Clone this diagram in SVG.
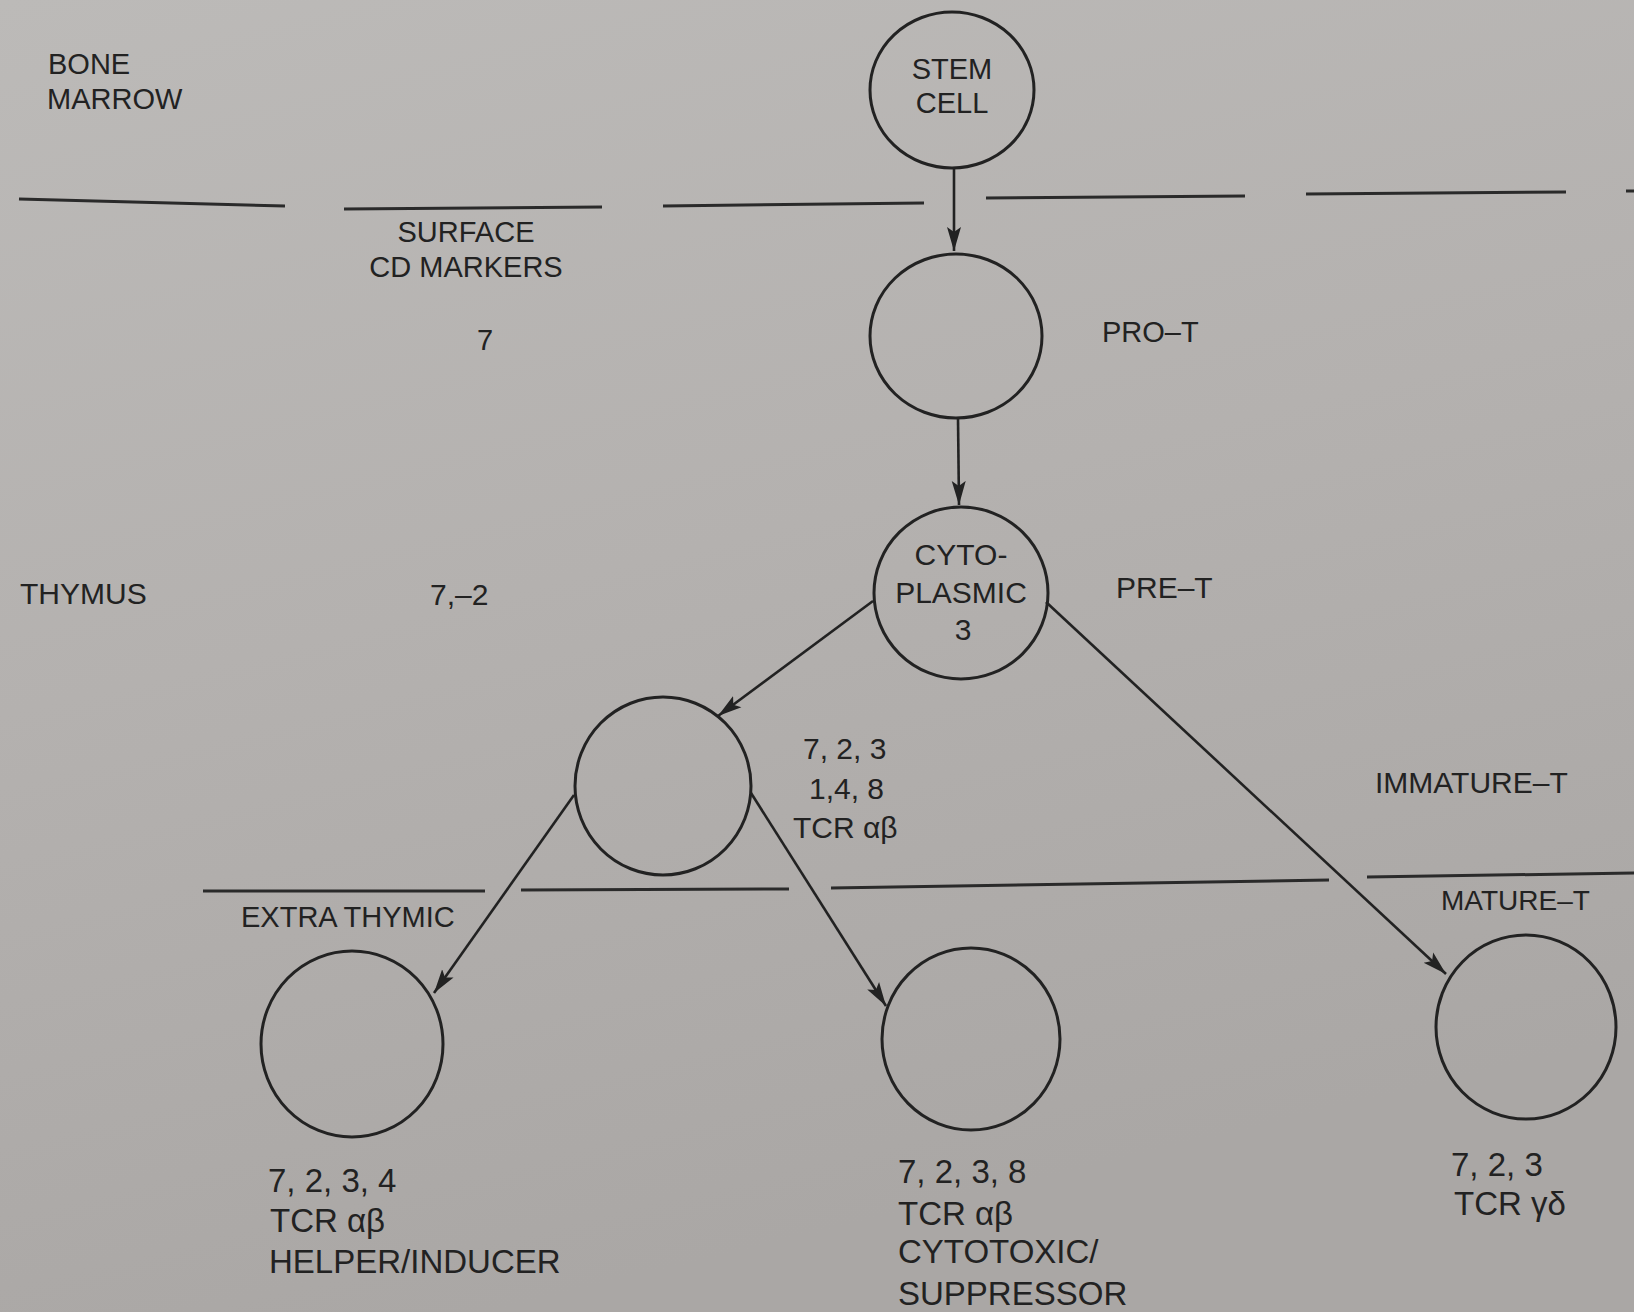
<svg xmlns="http://www.w3.org/2000/svg" width="1634" height="1312" viewBox="0 0 1634 1312">
<defs>
<linearGradient id="paper" x1="0" y1="0" x2="0.3" y2="1">
<stop offset="0" stop-color="#bcbab8"/>
<stop offset="0.5" stop-color="#b4b1af"/>
<stop offset="1" stop-color="#aaa7a5"/>
</linearGradient>
<marker id="arr" markerUnits="userSpaceOnUse" markerWidth="26" markerHeight="18" viewBox="0 0 26 18" refX="24" refY="9" orient="auto">
<path d="M0,2 L24,9 L0,16 L5,9 Z" fill="#222"/>
</marker>
<style>
.t{font-family:"Liberation Sans",Arial,sans-serif;fill:#222;}
.s28{font-size:28px;}
.s29{font-size:29px;}
.s30{font-size:30px;}
.s33{font-size:33px;}
.cell{fill:none;stroke:#222;stroke-width:3;}
.div{stroke:#2a2a2a;stroke-width:3;fill:none;}
.con{stroke:#222;stroke-width:2.6;fill:none;marker-end:url(#arr);}
</style>
</defs>
<rect width="1634" height="1312" fill="url(#paper)"/>

<g id="dividers">
<line class="div" x1="19" y1="199" x2="285" y2="206"/>
<line class="div" x1="344" y1="209" x2="602" y2="207"/>
<line class="div" x1="663" y1="206" x2="924" y2="203"/>
<line class="div" x1="986" y1="198" x2="1245" y2="196"/>
<line class="div" x1="1306" y1="194" x2="1566" y2="192"/>
<line class="div" x1="1626" y1="191" x2="1634" y2="191"/>
<line class="div" x1="203" y1="891" x2="485" y2="891"/>
<line class="div" x1="521" y1="890" x2="789" y2="889"/>
<line class="div" x1="831" y1="888" x2="1329" y2="880"/>
<line class="div" x1="1367" y1="877" x2="1634" y2="873"/>
</g>

<g id="labels">
<text class="t s29" x="48" y="74">BONE</text>
<text class="t s29" x="47" y="109">MARROW</text>
<text class="t s29" x="466" y="242" text-anchor="middle">SURFACE</text>
<text class="t s29" x="466" y="277" text-anchor="middle">CD MARKERS</text>
<text class="t s29" x="477" y="350">7</text>
<text class="t s29" x="1102" y="342">PRO–T</text>
<text class="t s30" x="20" y="604">THYMUS</text>
<text class="t s30" x="430" y="605">7,–2</text>
<text class="t s30" x="1116" y="598">PRE–T</text>
<text class="t s30" x="1375" y="793">IMMATURE–T</text>
<text class="t s29" x="241" y="927">EXTRA THYMIC</text>
<text class="t s28" x="1441" y="910">MATURE–T</text>
</g>

<g id="stem-cell">
<ellipse class="cell" cx="952" cy="90" rx="82" ry="78"/>
<text class="t s29" x="952" y="79" text-anchor="middle">STEM</text>
<text class="t s29" x="952" y="113" text-anchor="middle">CELL</text>
</g>

<g id="pro-t">
<ellipse class="cell" cx="956" cy="336" rx="86" ry="82"/>
</g>

<g id="pre-t">
<ellipse class="cell" cx="961" cy="593" rx="87" ry="86"/>
<text class="t s30" x="961" y="565" text-anchor="middle">CYTO-</text>
<text class="t s30" x="961" y="603" text-anchor="middle">PLASMIC</text>
<text class="t s30" x="963" y="640" text-anchor="middle">3</text>
</g>

<g id="immature-t">
<ellipse class="cell" cx="663" cy="786" rx="88" ry="89"/>
<text class="t s30" x="803" y="759">7, 2, 3</text>
<text class="t s30" x="809" y="799">1,4, 8</text>
<text class="t s30" x="793" y="838">TCR αβ</text>
</g>

<g id="helper">
<ellipse class="cell" cx="352" cy="1044" rx="91" ry="93"/>
<text class="t s33" x="268" y="1192">7, 2, 3, 4</text>
<text class="t s33" x="270" y="1232">TCR αβ</text>
<text class="t s33" x="269" y="1273">HELPER/INDUCER</text>
</g>

<g id="cytotoxic">
<ellipse class="cell" cx="971" cy="1039" rx="89" ry="91"/>
<text class="t s33" x="898" y="1183">7, 2, 3, 8</text>
<text class="t s33" x="898" y="1225">TCR αβ</text>
<text class="t s33" x="898" y="1263">CYTOTOXIC/</text>
<text class="t s33" x="898" y="1305">SUPPRESSOR</text>
</g>

<g id="gamma-delta">
<ellipse class="cell" cx="1526" cy="1027" rx="90" ry="92"/>
<text class="t s33" x="1451" y="1176">7, 2, 3</text>
<text class="t s33" x="1454" y="1215">TCR γδ</text>
</g>

<g id="connectors">
<line class="con" x1="954" y1="168" x2="954" y2="251"/>
<line class="con" x1="958" y1="418" x2="959" y2="505"/>
<line class="con" x1="873" y1="601" x2="718" y2="716"/>
<line class="con" x1="1046" y1="602" x2="1446" y2="974"/>
<line class="con" x1="574" y1="795" x2="434" y2="993"/>
<line class="con" x1="751" y1="793" x2="886" y2="1006"/>
</g>
</svg>
